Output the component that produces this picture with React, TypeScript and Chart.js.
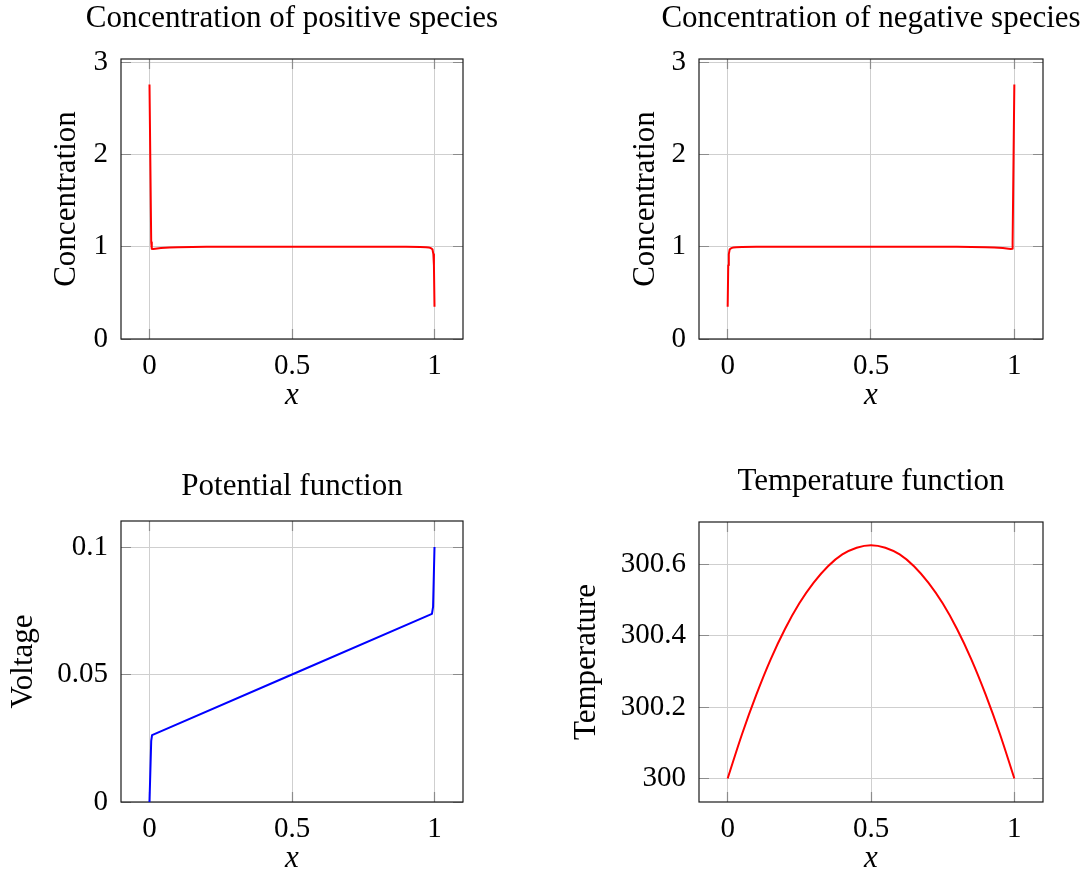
import React, { useEffect, useRef } from 'react';
import { Chart, registerables } from 'chart.js';

Chart.register(...registerables);

const FONT = "'Liberation Serif', 'Times New Roman', serif";

// ---- data ----
const xTickValues = [0, 0.5, 1];
const xTickLabels = ['0', '0.5', '1'];

const concTickValues = [0, 1, 2, 3];
const concTickLabels = ['0', '1', '2', '3'];
const voltTickValues = [0, 0.05, 0.1];
const voltTickLabels = ['0', '0.05', '0.1'];
const tempTickValues = [300, 300.2, 300.4, 300.6];
const tempTickLabels = ['300', '300.2', '300.4', '300.6'];

const posX = [0, 0.006, 0.008, 0.012, 0.02, 0.04, 0.07, 0.1, 0.15, 0.2, 0.5, 0.8, 0.9, 0.95, 0.97, 0.98, 0.985, 0.99, 0.993, 0.996, 0.998, 1];
const posY = [2.76, 1.05, 0.978, 0.976, 0.979, 0.986, 0.992, 0.995, 0.998, 0.999, 1.0, 1.0, 0.999, 0.997, 0.995, 0.992, 0.988, 0.98, 0.97, 0.92, 0.8, 0.35];

const negX = [0, 0.002, 0.004, 0.007, 0.01, 0.015, 0.02, 0.03, 0.05, 0.1, 0.2, 0.5, 0.8, 0.85, 0.9, 0.93, 0.96, 0.98, 0.988, 0.992, 0.994, 1];
const negY = [0.35, 0.8, 0.92, 0.97, 0.98, 0.988, 0.992, 0.995, 0.997, 0.999, 1.0, 1.0, 0.999, 0.998, 0.995, 0.992, 0.986, 0.979, 0.976, 0.978, 1.05, 2.76];

const potX = [0, 0.006, 0.009, 0.5, 0.991, 0.995, 1];
const potY = [0, 0.024, 0.0262, 0.05, 0.0738, 0.0765, 0.1];

const tempX = [0, 0.05, 0.1, 0.15, 0.2, 0.25, 0.3, 0.35, 0.4, 0.45, 0.5, 0.55, 0.6, 0.65, 0.7, 0.75, 0.8, 0.85, 0.9, 0.95, 1];
const tempY = [300, 300.124, 300.235, 300.334, 300.419, 300.491, 300.549, 300.595, 300.628, 300.647, 300.654, 300.647, 300.628, 300.595, 300.549, 300.491, 300.419, 300.334, 300.235, 300.124, 300];

type PanelCfg = {
  title: string;
  yTitle: string;
  xs: number[];
  ys: number[];
  color: string;
  yMin: number;
  yMax: number;
  yTicks: number[];
  yTickLabels: string[];
  smooth?: boolean;
  left: number;
  top: number;
  width: number;
  height: number;
  yAxisW: number;
  rightW: number;
  titlePadBottom: number;
  xAxisH: number;
  xTitlePadBottom: number;
  yTitlePadTop: number;
};

const panels: PanelCfg[] = [
  {
    title: 'Concentration of positive species', yTitle: 'Concentration',
    xs: posX, ys: posY, color: '#ff0000', yMin: 0, yMax: 3.036,
    yTicks: concTickValues, yTickLabels: concTickLabels,
    left: 0, top: 0, width: 584, height: 419, yAxisW: 121, rightW: 121,
    titlePadBottom: 21.8, xAxisH: 80, xTitlePadBottom: 4.5, yTitlePadTop: 48.5,
  },
  {
    title: 'Concentration of negative species', yTitle: 'Concentration',
    xs: negX, ys: negY, color: '#ff0000', yMin: 0, yMax: 3.036,
    yTicks: concTickValues, yTickLabels: concTickLabels,
    left: 620, top: 0, width: 502, height: 419, yAxisW: 79, rightW: 79,
    titlePadBottom: 21.8, xAxisH: 80, xTitlePadBottom: 4.5, yTitlePadTop: 7,
  },
  {
    title: 'Potential function', yTitle: 'Voltage',
    xs: potX, ys: potY, color: '#0000ff', yMin: 0, yMax: 0.1102,
    yTicks: voltTickValues, yTickLabels: voltTickLabels,
    left: 0, top: 468, width: 584, height: 409, yAxisW: 121, rightW: 121,
    titlePadBottom: 15.8, xAxisH: 75, xTitlePadBottom: 0, yTitlePadTop: 5,
  },
  {
    title: 'Temperature function', yTitle: 'Temperature',
    xs: tempX, ys: tempY, color: '#ff0000', yMin: 299.934, yMax: 300.719,
    yTicks: tempTickValues, yTickLabels: tempTickLabels, smooth: true,
    left: 560, top: 463, width: 622, height: 414, yAxisW: 139, rightW: 139,
    titlePadBottom: 21.8, xAxisH: 75, xTitlePadBottom: 0, yTitlePadTop: 8.5,
  },
];

const TICK_LEN = 10;

function align(p: number, w: number) {
  const h = w / 2;
  return Math.round(p - h) + h;
}

const framePlugin = {
  id: 'pgfFrame',
  beforeDatasetsDraw(chart: any) {
    const { ctx, chartArea } = chart;
    const { left, right, top, bottom } = chartArea;
    const xs = chart.scales.x;
    const ys = chart.scales.y;
    ctx.save();
    ctx.strokeStyle = '#8c8c8c';
    ctx.lineWidth = 1.2;
    ctx.beginPath();
    xs.ticks.forEach((t: any) => {
      const px = align(xs.getPixelForValue(t.value), 1);
      ctx.moveTo(px, bottom);
      ctx.lineTo(px, bottom - TICK_LEN);
      ctx.moveTo(px, top);
      ctx.lineTo(px, top + TICK_LEN);
    });
    ys.ticks.forEach((t: any) => {
      const py = align(ys.getPixelForValue(t.value), 1);
      ctx.moveTo(left, py);
      ctx.lineTo(left + TICK_LEN, py);
      ctx.moveTo(right, py);
      ctx.lineTo(right - TICK_LEN, py);
    });
    ctx.stroke();
    ctx.strokeStyle = '#1a1a1a';
    ctx.lineWidth = 1.2;
    ctx.strokeRect(left, top, right - left, bottom - top);
    ctx.restore();
  },
};

function Panel({ cfg }: { cfg: PanelCfg }) {
  const ref = useRef<HTMLCanvasElement>(null);
  useEffect(() => {
    const canvas = ref.current;
    if (!canvas) return;
    const data = cfg.xs.map((x, i) => ({ x, y: cfg.ys[i] }));
    const chart = new Chart(canvas, {
      type: 'scatter',
      data: {
        datasets: [
          {
            data,
            showLine: true,
            borderColor: cfg.color,
            backgroundColor: cfg.color,
            borderWidth: 2,
            pointRadius: 0,
            pointHoverRadius: 0,
            fill: false,
            tension: 0,
            borderJoinStyle: 'round',
            cubicInterpolationMode: cfg.smooth ? 'monotone' : 'default',
          } as any,
        ],
      },
      options: {
        responsive: false,
        animation: false,
        devicePixelRatio: 1,
        layout: { padding: 0 },
        plugins: {
          legend: { display: false },
          tooltip: { enabled: false },
          title: {
            display: true,
            text: cfg.title,
            color: '#000',
            font: { family: FONT, size: 31, weight: 'normal', lineHeight: 1.2 },
            padding: { top: 0, bottom: cfg.titlePadBottom },
          },
        },
        scales: {
          x: {
            type: 'linear',
            position: 'bottom',
            min: -0.1,
            max: 1.1,
            afterBuildTicks: (s: any) => {
              s.ticks = xTickValues.map((value) => ({ value }));
            },
            afterFit: (s: any) => {
              s.height = cfg.xAxisH;
            },
            ticks: {
              color: '#000',
              padding: 9.5,
              maxRotation: 0,
              font: { family: FONT, size: 29, lineHeight: 1.2 },
              callback: (v: any) => {
                const i = xTickValues.indexOf(Number(v));
                return i >= 0 ? xTickLabels[i] : '';
              },
            },
            grid: { color: '#cfcfcf', lineWidth: 1, drawTicks: false },
            border: { display: false },
            title: {
              display: true,
              text: 'x',
              color: '#000',
              font: { family: FONT, size: 31, style: 'italic', lineHeight: 1.2 },
              padding: { top: 0, bottom: cfg.xTitlePadBottom },
            },
          },
          y: {
            type: 'linear',
            position: 'left',
            min: cfg.yMin,
            max: cfg.yMax,
            afterBuildTicks: (s: any) => {
              s.ticks = cfg.yTicks.map((value) => ({ value }));
            },
            afterFit: (s: any) => {
              s.width = cfg.yAxisW;
            },
            ticks: {
              color: '#000',
              padding: 13,
              font: { family: FONT, size: 29, lineHeight: 1.2 },
              callback: (v: any) => {
                const i = cfg.yTicks.findIndex((t) => Math.abs(t - Number(v)) < 1e-9);
                return i >= 0 ? cfg.yTickLabels[i] : '';
              },
            },
            grid: { color: '#cfcfcf', lineWidth: 1, drawTicks: false },
            border: { display: false },
            title: {
              display: true,
              text: cfg.yTitle,
              color: '#000',
              font: { family: FONT, size: 31, lineHeight: 1.2 },
              padding: { top: cfg.yTitlePadTop, bottom: 0 },
            },
          },
          yR: {
            type: 'linear',
            position: 'right',
            display: true,
            grid: { display: false, drawTicks: false },
            border: { display: false },
            ticks: { display: false },
            afterFit: (s: any) => {
              s.width = cfg.rightW;
            },
          },
        },
      } as any,
      plugins: [framePlugin],
    });
    return () => chart.destroy();
  }, [cfg]);
  return (
    <canvas
      ref={ref}
      width={cfg.width}
      height={cfg.height}
      style={{ position: 'absolute', left: cfg.left, top: cfg.top, width: cfg.width, height: cfg.height }}
    />
  );
}

export default function App() {
  return (
    <div
      style={{
        position: 'fixed',
        left: 0,
        top: 0,
        width: 1085,
        height: 871,
        overflow: 'hidden',
        background: '#ffffff',
      }}
    >
      {panels.map((p, i) => (
        <Panel key={i} cfg={p} />
      ))}
    </div>
  );
}
